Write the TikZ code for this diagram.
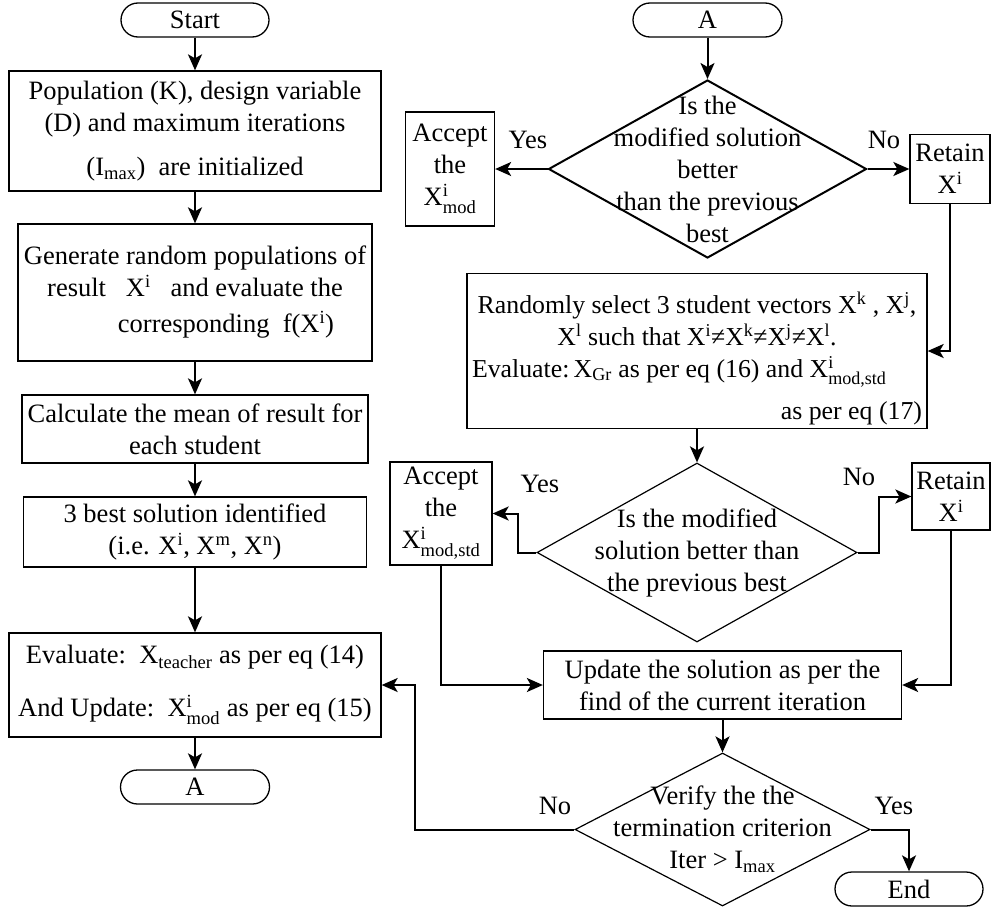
\documentclass[tikz,border=0pt]{standalone}
\usepackage{amsmath}
\usepackage{fontspec}
\setmainfont{Liberation Serif}
\usepackage{tikz}
\usetikzlibrary{positioning, arrows.meta, shapes.geometric}
\tikzset{
arrow/.style={-{Stealth[length=16pt,width=14pt,inset=4pt]}, line width=2pt}, % bold connectors
process/.style={draw, line width=1.3pt, rectangle, align=center, inner sep=4pt}, % plain step box
terminal/.style={draw, line width=1.3pt, rectangle, rounded corners=17pt, minimum height=34pt, align=center}, % start, end and connector A
decision/.style={draw, diamond, inner sep=0pt}, % the text is laid on top of it
dtext/.style={align=center, inner sep=0pt}, % text inside a decision
}

\begin{document}
\begin{tikzpicture}[x=1pt, y=-1pt, font=\fontsize{26.5pt}{32pt}\selectfont]
\useasboundingbox[fill=white] (0,0) rectangle (992,910);

% left column
\node[terminal, minimum width=148pt] (start) at (195,20) {Start};
\node[process, minimum width=372pt, minimum height=120pt] (init) at (195,131) {Population (K), design variable\\(D) and maximum iterations\\[12pt](I\textsubscript{max})\ \ are initialized};
\node[process, minimum width=354pt, minimum height=137pt] (gen) at (195,292.5) {Generate random populations of\\result\ \ \ $\mathrm{X}^{\text{i}}$\ \ \ and evaluate the\\[4pt]\hspace*{62pt}corresponding\ \ f($\mathrm{X}^{\text{i}}$)};
\node[process, minimum width=346pt, minimum height=68pt] (mean) at (195,429) {Calculate the mean of result for\\each student};
\node[process, minimum width=343pt, minimum height=70pt] (best) at (195,532) {3 best solution identified\\(i.e. X\textsuperscript{i}, X\textsuperscript{m}, X\textsuperscript{n})};
\node[process, minimum width=372pt, minimum height=104pt] (teach) at (195,685) {Evaluate:\ \ $\mathrm{X}_{\text{teacher}}$ as per eq (14)\\[21pt]And Update:\ \ $\mathrm{X}^{\text{i}}_{\text{mod}}$ as per eq (15)};
\node[terminal, minimum width=149pt] (conA) at (195,787) {A};

% right column
\node[terminal, minimum width=149pt] (conB) at (707.5,20) {A};
\node[decision, line width=2pt, minimum width=318pt, minimum height=178pt] (test1) at (707.5,169) {};
\node[dtext] (test1txt) at (test1) {Is the\\modified solution\\better\\than the previous\\best};
\node[process, minimum width=89pt, minimum height=114pt] (acc1) at (450,169) {Accept\\the\\$\mathrm{X}^{\text{i}}_{\text{mod}}$};
\node[process, minimum width=80pt, minimum height=69pt] (ret1) at (950,169) {Retain\\$\mathrm{X}^{\text{i}}$};
\node[process, align=flush center, text width=450pt, inner xsep=5pt, minimum height=154pt, font=\fontsize{25.8pt}{32pt}\selectfont] (select) at (697,351) {\rule{0pt}{36pt}\mbox{Randomly select 3 student vectors X\textsuperscript{k} , X\textsuperscript{j},}\\\mbox{X\textsuperscript{l} such that X\textsuperscript{i}≠X\textsuperscript{k}≠X\textsuperscript{j}≠X\textsuperscript{l}.}\\\mbox{Evaluate:\,$\mathrm{X}_{\text{Gr}}$ as per eq (16) and $\mathrm{X}^{\text{i}}_{\text{mod,std}}$}\hspace*{0pt plus 1filll}\null\\[10pt]\hspace*{0pt plus 1filll}as per eq (17)\hspace*{17pt}};
\node[decision, line width=1.2pt, minimum width=320pt, minimum height=179pt] (test2) at (697,552.5) {};
\node[dtext] (test2txt) at (test2) {Is the modified\\solution better than\\the previous best};
\node[process, minimum width=102pt, minimum height=103pt] (acc2) at (441,513.5) {Accept\\the\\$\mathrm{X}^{\text{i}}_{\text{mod,std}}$};
\node[process, minimum width=78pt, minimum height=67pt] (ret2) at (951,496.5) {Retain\\$\mathrm{X}^{\text{i}}$};
\node[process, minimum width=358pt, minimum height=68pt] (update) at (722.5,685) {Update the solution as per the\\find of the current iteration};
\node[decision, line width=1.2pt, minimum width=295pt, minimum height=153pt] (test3) at (722.5,829.5) {};
\node[dtext] (test3txt) at (test3) {Verify the the\\termination criterion\\Iter > I\textsubscript{max}};
\node[terminal, minimum width=148pt] (stop) at (909,889) {End};

% branch labels
\node (yes1) at (528,140) {Yes};
\node (no1) at (884,140) {No};
\node (yes2) at (540,484) {Yes};
\node (no2) at (859,477) {No};
\node (no3) at (555,806) {No};
\node (yes3) at (894,806) {Yes};

% connectors
\draw[arrow] (start) -- (init);
\draw[arrow] (init) -- (gen);
\draw[arrow] (gen) -- (mean);
\draw[arrow] (mean) -- (best);
\draw[arrow] (best) -- (teach);
\draw[arrow] (teach) -- (conA);
\draw[arrow] (conB) -- (test1);
\draw[arrow] (test1.west) -- (acc1.east);
\draw[arrow] (test1.east) -- (ret1.west);
\draw[arrow] (ret1.south) |- (select.east);
\draw[arrow] (select) -- (test2);
\draw[arrow] (test2.west) -- ++(-18,0) |- (acc2.east);
\draw[arrow] (test2.east) -- ++(21,0) |- (ret2.west);
\draw[arrow] (acc2.south) |- (update.west);
\draw[arrow] (ret2.south) |- (update.east);
\draw[arrow] (update) -- (test3);
\draw[arrow] (test3.west) -- ++(-159,0) |- (teach.east);
\draw[arrow] (test3.east) -| (stop.north);
\end{tikzpicture}
\end{document}
